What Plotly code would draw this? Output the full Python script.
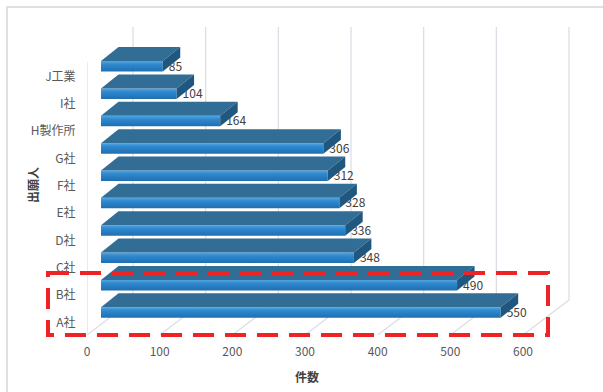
import plotly.graph_objects as go

# ---- data (bottom to top) ----
categories = ["A社", "B社", "C社", "D社", "E社", "F社", "G社", "H製作所", "I社", "J工業"]
values = [550, 490, 348, 336, 328, 312, 306, 164, 104, 85]
x_ticks = [0, 100, 200, 300, 400, 500, 600]
x_title = "件数"
y_title = "出願人"

# ---- geometry / style constants (pixel-based) ----
W, H = 603, 392
ML, MR, MT, MB = 87, 5, 20, 57
PW, PH = W - ML - MR, H - MT - MB
X_MAX = 703.2
XPPU = PW / X_MAX
YPPU = 27.35
A_PX = 312.5  # pixel y of first category front-face centre
Y_BOT = -(H - MB - A_PX) / YPPU
Y_TOP = (A_PX - MT) / YPPU

BAR_X0 = 14 / XPPU
FACE_H = 10.5 / YPPU
DDX = 17.5 / XPPU
DDY = 14 / YPPU
WALL_DX = 46 / XPPU
WALL_DY = 35 / YPPU
WALL_TOP = (A_PX - 27) / YPPU
LEFT_TOP = (A_PX - 62) / YPPU

def px2paper(px, py):
    return (px - ML) / PW, (H - MB - py) / PH

FONT = "Noto Sans CJK JP"
GRID = "#d9dde4"

fig = go.Figure()

# floor diagonals and back-wall gridlines
gx, gy = [], []
for t in x_ticks:
    gx += [t, t + WALL_DX, None, t + WALL_DX, t + WALL_DX, None]
    gy += [Y_BOT, Y_BOT + WALL_DY, None, Y_BOT + WALL_DY, WALL_TOP, None]
gx += [0, 0, None]
gy += [Y_BOT, LEFT_TOP, None]
fig.add_trace(go.Scatter(x=gx, y=gy, mode="lines", line=dict(color=GRID, width=1.2),
                         hoverinfo="skip", showlegend=False))

# value labels (under bars so side faces overlap slightly)
fig.add_trace(go.Scatter(
    x=[BAR_X0 + v + 6 / XPPU for v in values],
    y=[i - 0.05 for i in range(len(values))],
    mode="text", text=[str(v) for v in values], textposition="middle right",
    textfont=dict(family=FONT, size=12, color="#404040"),
    hoverinfo="skip", showlegend=False))

# bars (pseudo-3D)
for i, v in enumerate(values):
    y0, y1 = i - FACE_H / 2, i + FACE_H / 2
    xa, xb = BAR_X0, BAR_X0 + v
    # front face
    fig.add_trace(go.Scatter(
        x=[xa, xb, xb, xa, xa], y=[y0, y0, y1, y1, y0], mode="lines", fill="toself",
        line=dict(width=0), fillgradient=dict(type="vertical",
                                              colorscale=[[0, "#1f6fb0"], [0.7, "#2f8ad0"], [1, "#56a6e0"]]),
        hoverinfo="skip", showlegend=False))
    # top face
    fig.add_trace(go.Scatter(
        x=[xa, xb, xb + DDX, xa + DDX, xa], y=[y1, y1, y1 + DDY, y1 + DDY, y1],
        mode="lines", fill="toself", fillcolor="#326d96", line=dict(width=0),
        hoverinfo="skip", showlegend=False))
    # side face
    fig.add_trace(go.Scatter(
        x=[xb, xb + DDX, xb + DDX, xb, xb], y=[y0, y0 + DDY, y1 + DDY, y1, y0],
        mode="lines", fill="toself", fillcolor="#20577f", line=dict(width=0),
        hoverinfo="skip", showlegend=False))

# chart border and red highlight
bx0, by0 = px2paper(7, 7)
bx1, by1 = px2paper(W + 10, H + 10)
rx0, ry0 = px2paper(48, 273)
rx1, ry1 = px2paper(548, 335)
shapes = [
    dict(type="rect", xref="paper", yref="paper", x0=bx0, y0=by0, x1=bx1, y1=by1,
         line=dict(color="#d6d6d6", width=1.5), layer="below"),
    dict(type="rect", xref="paper", yref="paper", x0=rx0, y0=ry0, x1=rx1, y1=ry1,
         line=dict(color="#ee2326", width=4, dash="21px,11px"), layer="above"),
]

tx, ty = px2paper(307, 376)
yx, yy = px2paper(32, 185)
annotations = [
    dict(text=f"<b>{x_title}</b>", xref="paper", yref="paper", x=tx, y=ty, showarrow=False,
         xanchor="center", yanchor="middle",
         font=dict(family=FONT, size=12, color="#404040")),
    dict(text=f"<b>{y_title}</b>", xref="paper", yref="paper", x=yx, y=yy, showarrow=False,
         xanchor="center", yanchor="middle",
         textangle=-90, font=dict(family=FONT, size=12, color="#404040")),
]

fig.update_layout(
    width=W, height=H, margin=dict(l=ML, r=MR, t=MT, b=MB),
    paper_bgcolor="white", plot_bgcolor="white",
    shapes=shapes, annotations=annotations, showlegend=False,
    xaxis=dict(range=[0, X_MAX], tickvals=x_ticks, showgrid=False, zeroline=False,
               showline=False, ticks="outside", ticklen=6, tickcolor="rgba(0,0,0,0)",
               tickfont=dict(family=FONT, size=12, color="#595959"), fixedrange=True),
    yaxis=dict(range=[Y_BOT, Y_TOP], tickvals=[i - 10 / YPPU for i in range(len(categories))],
               ticktext=categories, showgrid=False, zeroline=False, showline=False,
               ticks="outside", ticklen=8, tickcolor="rgba(0,0,0,0)",
               tickfont=dict(family=FONT, size=12, color="#595959"), fixedrange=True),
)

fig.write_html("out.html")
